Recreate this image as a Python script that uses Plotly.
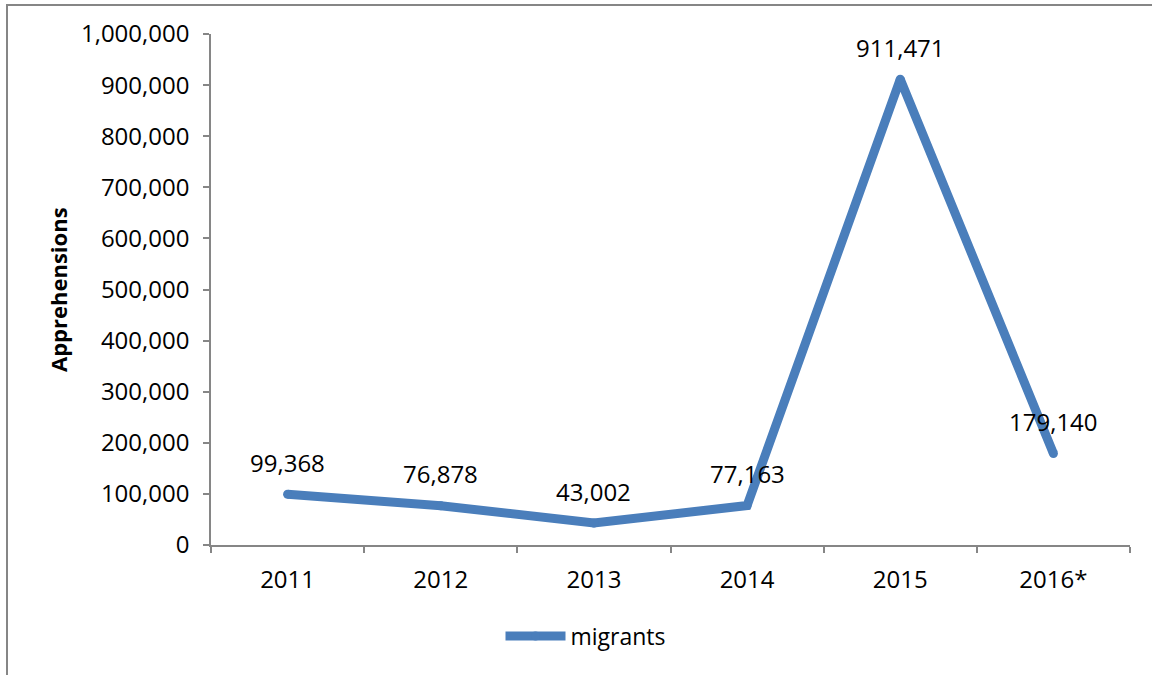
import plotly.graph_objects as go

years = ["2011", "2012", "2013", "2014", "2015", "2016*"]
migrants = [99368, 76878, 43002, 77163, 911471, 179140]
y_ticks = [0, 100000, 200000, 300000, 400000, 500000, 600000, 700000, 800000, 900000, 1000000]
y_ticktext = [f"{v:,}" for v in y_ticks]

W, H = 1152, 675
L, R, T, B = 211, 1130, 34, 545
pw, ph = R - L, B - T

def px_x(x):
    return (x - L) / pw

def px_y(y):
    return (B - y) / ph

FONT = "Open Sans"
AX = "#868686"
BLUE = "#4A7EBB"

fig = go.Figure()
fig.add_trace(go.Scatter(
    x=years, y=migrants, mode="lines+markers", name="migrants",
    line=dict(color=BLUE, width=9), marker=dict(color=BLUE, size=9, symbol="circle"),
    hoverinfo="skip",
))

for i, v in enumerate(migrants):
    fig.add_annotation(x=i, y=v, text=f"{v:,}", showarrow=False,
                       yshift=32, font=dict(family=FONT, size=24, color="#000000"))

fig.add_annotation(xref="paper", yref="paper", x=px_x(58), y=px_y(290),
                   xanchor="center", yanchor="middle",
                   text="<b>Apprehensions</b>", textangle=-90, showarrow=False,
                   font=dict(family=FONT, size=22, color="#000000"))

fig.add_shape(type="rect", xref="paper", yref="paper",
              x0=px_x(7), x1=px_x(1170), y0=px_y(700), y1=px_y(5),
              line=dict(color=AX, width=2), fillcolor="rgba(0,0,0,0)", layer="above")

fig.update_layout(
    width=W, height=H,
    margin=dict(l=L, r=W - R, t=T, b=H - B, pad=0),
    paper_bgcolor="white", plot_bgcolor="white",
    font=dict(family=FONT, size=24, color="#000000"),
    showlegend=True,
    legend=dict(orientation="h", x=px_x(586), y=px_y(636), xanchor="center", yanchor="middle",
                itemwidth=60, font=dict(family=FONT, size=23, color="#000000"),
                bgcolor="rgba(0,0,0,0)"),
    xaxis=dict(type="category", range=[-0.5, 5.5], showgrid=False, zeroline=False,
               showline=True, linecolor=AX, linewidth=1.5, ticks="outside", ticklen=6,
               tickcolor=AX, tickwidth=1.5, tickson="boundaries", ticklabelstandoff=12,
               tickfont=dict(family=FONT, size=24, color="#000000")),
    yaxis=dict(range=[0, 1000000], tickvals=y_ticks, ticktext=y_ticktext, showgrid=False,
               zeroline=False, showline=True, linecolor=AX, linewidth=1.5, ticks="outside",
               ticklen=6, tickcolor=AX, tickwidth=1.5, ticklabelstandoff=9,
               tickfont=dict(family=FONT, size=24, color="#000000")),
)

fig.write_html("out.html", config={"displayModeBar": False},
               post_script="document.body.style.margin='0';document.body.style.overflow='hidden';")
